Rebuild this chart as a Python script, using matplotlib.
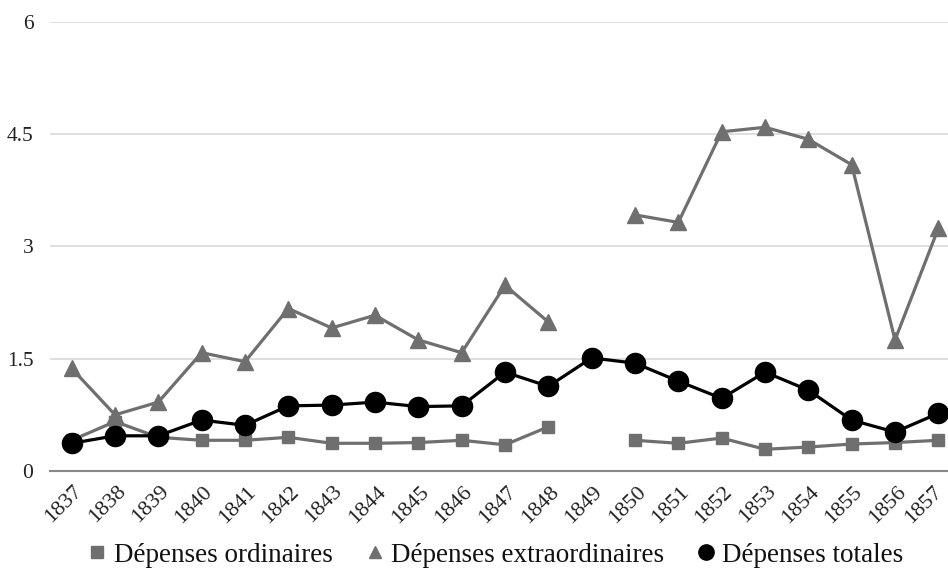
import numpy as np
import matplotlib
matplotlib.use("Agg")
import matplotlib.pyplot as plt
from matplotlib.lines import Line2D
import matplotlib.transforms as mtransforms

plt.rcParams['font.family'] = ['Liberation Serif', 'DejaVu Serif']

years = [str(y) for y in range(1837, 1858)]
ordinaires = [0.41, 0.66, 0.45, 0.41, 0.41, 0.45, 0.37, 0.37, 0.38, 0.41, 0.35, 0.59,
              np.nan, 0.41, 0.37, 0.44, 0.29, 0.32, 0.36, 0.38, 0.41]
extraordinaires = [1.37, 0.75, 0.92, 1.58, 1.46, 2.17, 1.91, 2.08, 1.75, 1.58, 2.48, 1.99,
                   np.nan, 3.42, 3.32, 4.53, 4.59, 4.43, 4.09, 1.75, 3.24]
totales = [0.37, 0.47, 0.47, 0.68, 0.61, 0.87, 0.88, 0.92, 0.86, 0.87, 1.32, 1.13,
           1.51, 1.44, 1.20, 0.97, 1.32, 1.08, 0.68, 0.52, 0.77]
yticks = [0, 1.5, 3, 4.5, 6]
yticklabels = ["0", "1.5", "3", "4.5", "6"]
labels = ["Dépenses ordinaires", "Dépenses extraordinaires", "Dépenses totales"]

W, H = 948, 579
fig = plt.figure(figsize=(W / 100, H / 100), dpi=100)
ax = fig.add_axes([50 / W, (H - 471) / H, 910 / W, (471 - 21.7) / H])

grey = '#6f6f6f'
x = np.arange(len(years))
ax.plot(x, ordinaires, color=grey, lw=2.3, marker='s', ms=8, mec=grey, mfc=grey, zorder=3)
ax.plot(x, extraordinaires, color=grey, lw=2.3, marker='^', ms=11, mec=grey, mfc=grey, zorder=3)
ax.plot(x, totales, color='black', lw=2.3, marker='o', ms=14.5, mec='black', mfc='black', zorder=4)

ax.set_xlim(-0.5, len(years) - 0.5)
ax.set_ylim(0, 6)
ax.set_yticks(yticks)
ax.set_yticklabels(yticklabels, fontsize=15.5, color='#222222')
ax.yaxis.grid(True, color='#d9d9d9', lw=1.2)
ax.set_axisbelow(True)
for s in ['top', 'right', 'left']:
    ax.spines[s].set_visible(False)
ax.spines['bottom'].set_color('#888888')
ax.spines['bottom'].set_linewidth(1.5)
ax.tick_params(axis='both', length=0)
ax.tick_params(axis='y', pad=12)

ax.set_xticks(x)
ax.set_xticklabels(years, fontsize=16, color='#222222', rotation=45,
                   ha='right', va='center', rotation_mode='anchor')
xticklabs = ax.get_xticklabels()
for i, lab in enumerate(xticklabs):
    dx = 8 if i < len(xticklabs) - 1 else 1
    offset = mtransforms.ScaledTranslation(dx / 100, -13 / 100, fig.dpi_scale_trans)
    lab.set_transform(lab.get_transform() + offset)

handles = [
    Line2D([], [], ls='none', marker='s', ms=8, color=grey),
    Line2D([], [], ls='none', marker='^', ms=9, color=grey),
    Line2D([], [], ls='none', marker='o', ms=11, color='black'),
]
fig.legend(handles, labels, loc='center', bbox_to_anchor=(497 / W, 1 - 555 / H), ncol=3,
           frameon=False, fontsize=19.5, handlelength=0.5, handletextpad=0.35,
           columnspacing=1.3, labelcolor='#111111')

fig.savefig('out.png', dpi=100)
